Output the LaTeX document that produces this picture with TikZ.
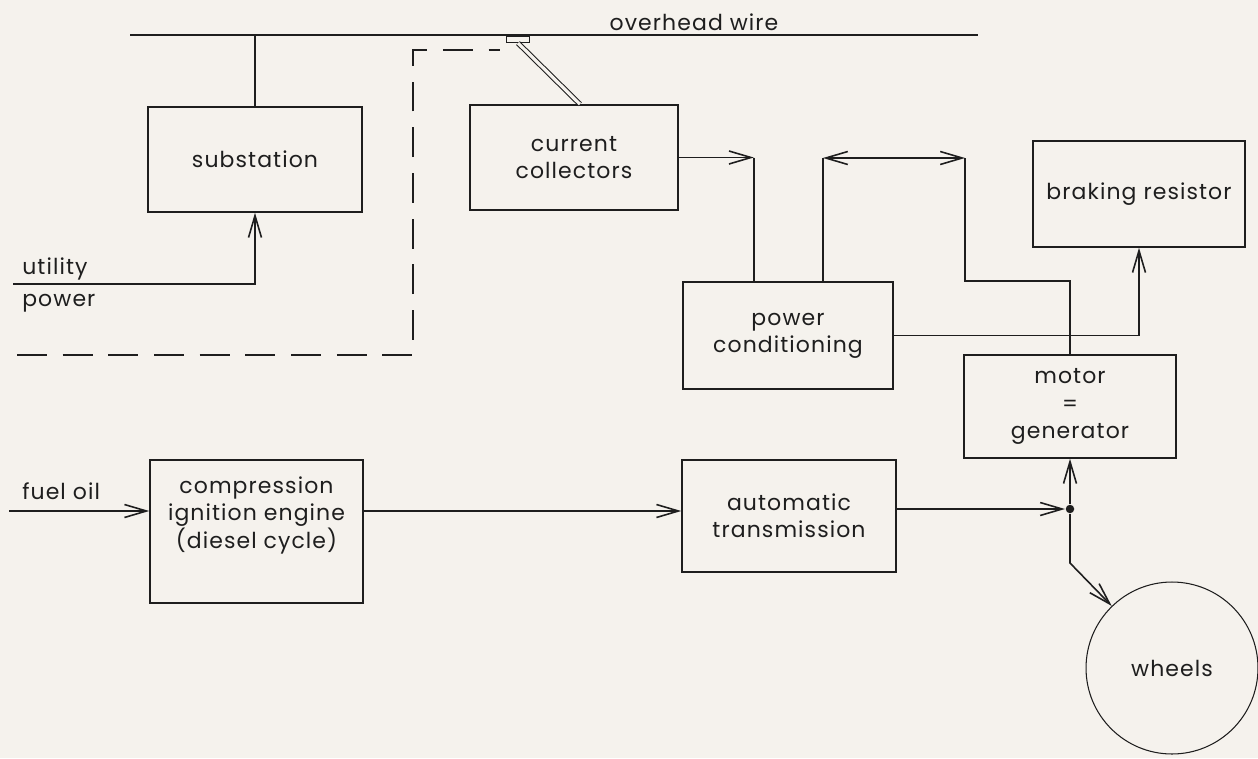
\documentclass[tikz,border=0pt]{standalone}
\usepackage{fontspec}
\setmainfont{Poppins}[LetterSpace=5]
\usetikzlibrary{arrows.meta,positioning,calc}
\definecolor{paper}{HTML}{F5F2ED}
\definecolor{inkline}{HTML}{1E1E1E}

\begin{document}
\begin{tikzpicture}[x=0.02cm,y=-0.02cm,font=\fontsize{12.5}{15.5}\selectfont,
 line width=.9pt,draw=inkline,text=inkline,
 box/.style={draw,align=center,inner sep=2pt},
 ar/.style={-{Straight Barb[length=4.4mm,width=2.6mm]}},
 arb/.style={{Straight Barb[length=4.4mm,width=2.6mm]}-{Straight Barb[length=4.4mm,width=2.6mm]}},
 dsh/.style={dash pattern=on 17pt off 9pt}]
\fill[paper] (0,0) rectangle (1258,758);
\useasboundingbox (0,0) rectangle (1258,758);
\node[box,minimum width=4.28cm,minimum height=2.1cm] (sub) at (255,159.5) {substation};
\node[box,minimum width=4.16cm,minimum height=2.1cm] (cc) at (574,157.5) {current\\collectors};
\node[box,minimum width=4.2cm,minimum height=2.14cm] (pc) at (788,335.5) {power\\conditioning};
\node[box,minimum width=4.24cm,minimum height=2.12cm] (br) at (1139,194) {braking resistor};
\node[box,minimum width=4.24cm,minimum height=2.06cm] (mg) at (1070,406.5) {motor\\=\\generator};
\node[box,minimum width=4.28cm,minimum height=2.24cm] (at) at (789,516) {automatic\\transmission};
\node[box,minimum width=4.26cm,minimum height=2.86cm,
 label={[align=center,anchor=north,yshift=-0.22cm]north:{compression\\ignition engine\\(diesel cycle)}}] (eng) at (256.5,531.5) {};
\node[draw,circle,line width=.6pt,minimum size=3.44cm] (wh) at (1172,668) {wheels};
\node[circle,fill=inkline,inner sep=0pt,minimum size=0.17cm] (jn) at (1070,509) {};
\coordinate (wl) at (130,35);
\coordinate (wr) at (978,35);
\draw (wl) -- (wr);
\node[anchor=base] (ow) at (694,30) {overhead wire};
\draw (sub.north) -- (sub.north |- wl);
\coordinate (up) at (13,284);
\draw[ar] (up) -| (sub.south);
\node[anchor=south west,inner sep=2pt] (utl) at (18,284) {utility};
\node[anchor=north west,inner sep=2pt] (pwr) at (18,290) {power};
\coordinate (dl) at (17,355);
\coordinate (dc) at (413,50);
\coordinate (dt) at (500,50);
\draw[dsh] (dl) -| (dc) -- (dt);
\node[draw,anchor=north,minimum width=0.46cm,minimum height=0.13cm,inner sep=0pt] (shoe) at (518,35) {};
\draw[double=paper,double distance=1.8pt,line width=.6pt] (shoe.south) -- ([xshift=0.12cm]cc.north);
\draw[ar] (cc.east) -- ++(75,0) coordinate (k1);
\draw (k1) -- (k1 |- pc.north);
\coordinate (k2) at (823,158);
\coordinate (k3) at (965,158);
\draw[arb] (k2) -- (k3);
\draw (k2) -- (k2 |- pc.north);
\draw (k3) -- (k3 |- pc.north) -| (mg.north);
\draw[ar] (pc.east) -| (br.south);
\draw[ar] (jn.north) -- (jn |- mg.south);
\draw[ar] (at.east |- jn) -- (jn.west);
\draw[ar] (jn.south) -- (jn |- 0,563) -- (wh);
\coordinate (fo) at (9,511);
\node[anchor=base west,inner sep=2pt] (fuel) at (18,499) {fuel oil};
\draw[ar] (fo) -- (fo -| eng.west);
\draw[ar] (eng.east |- fo) -- (at.west |- fo);
\end{tikzpicture}
\end{document}
